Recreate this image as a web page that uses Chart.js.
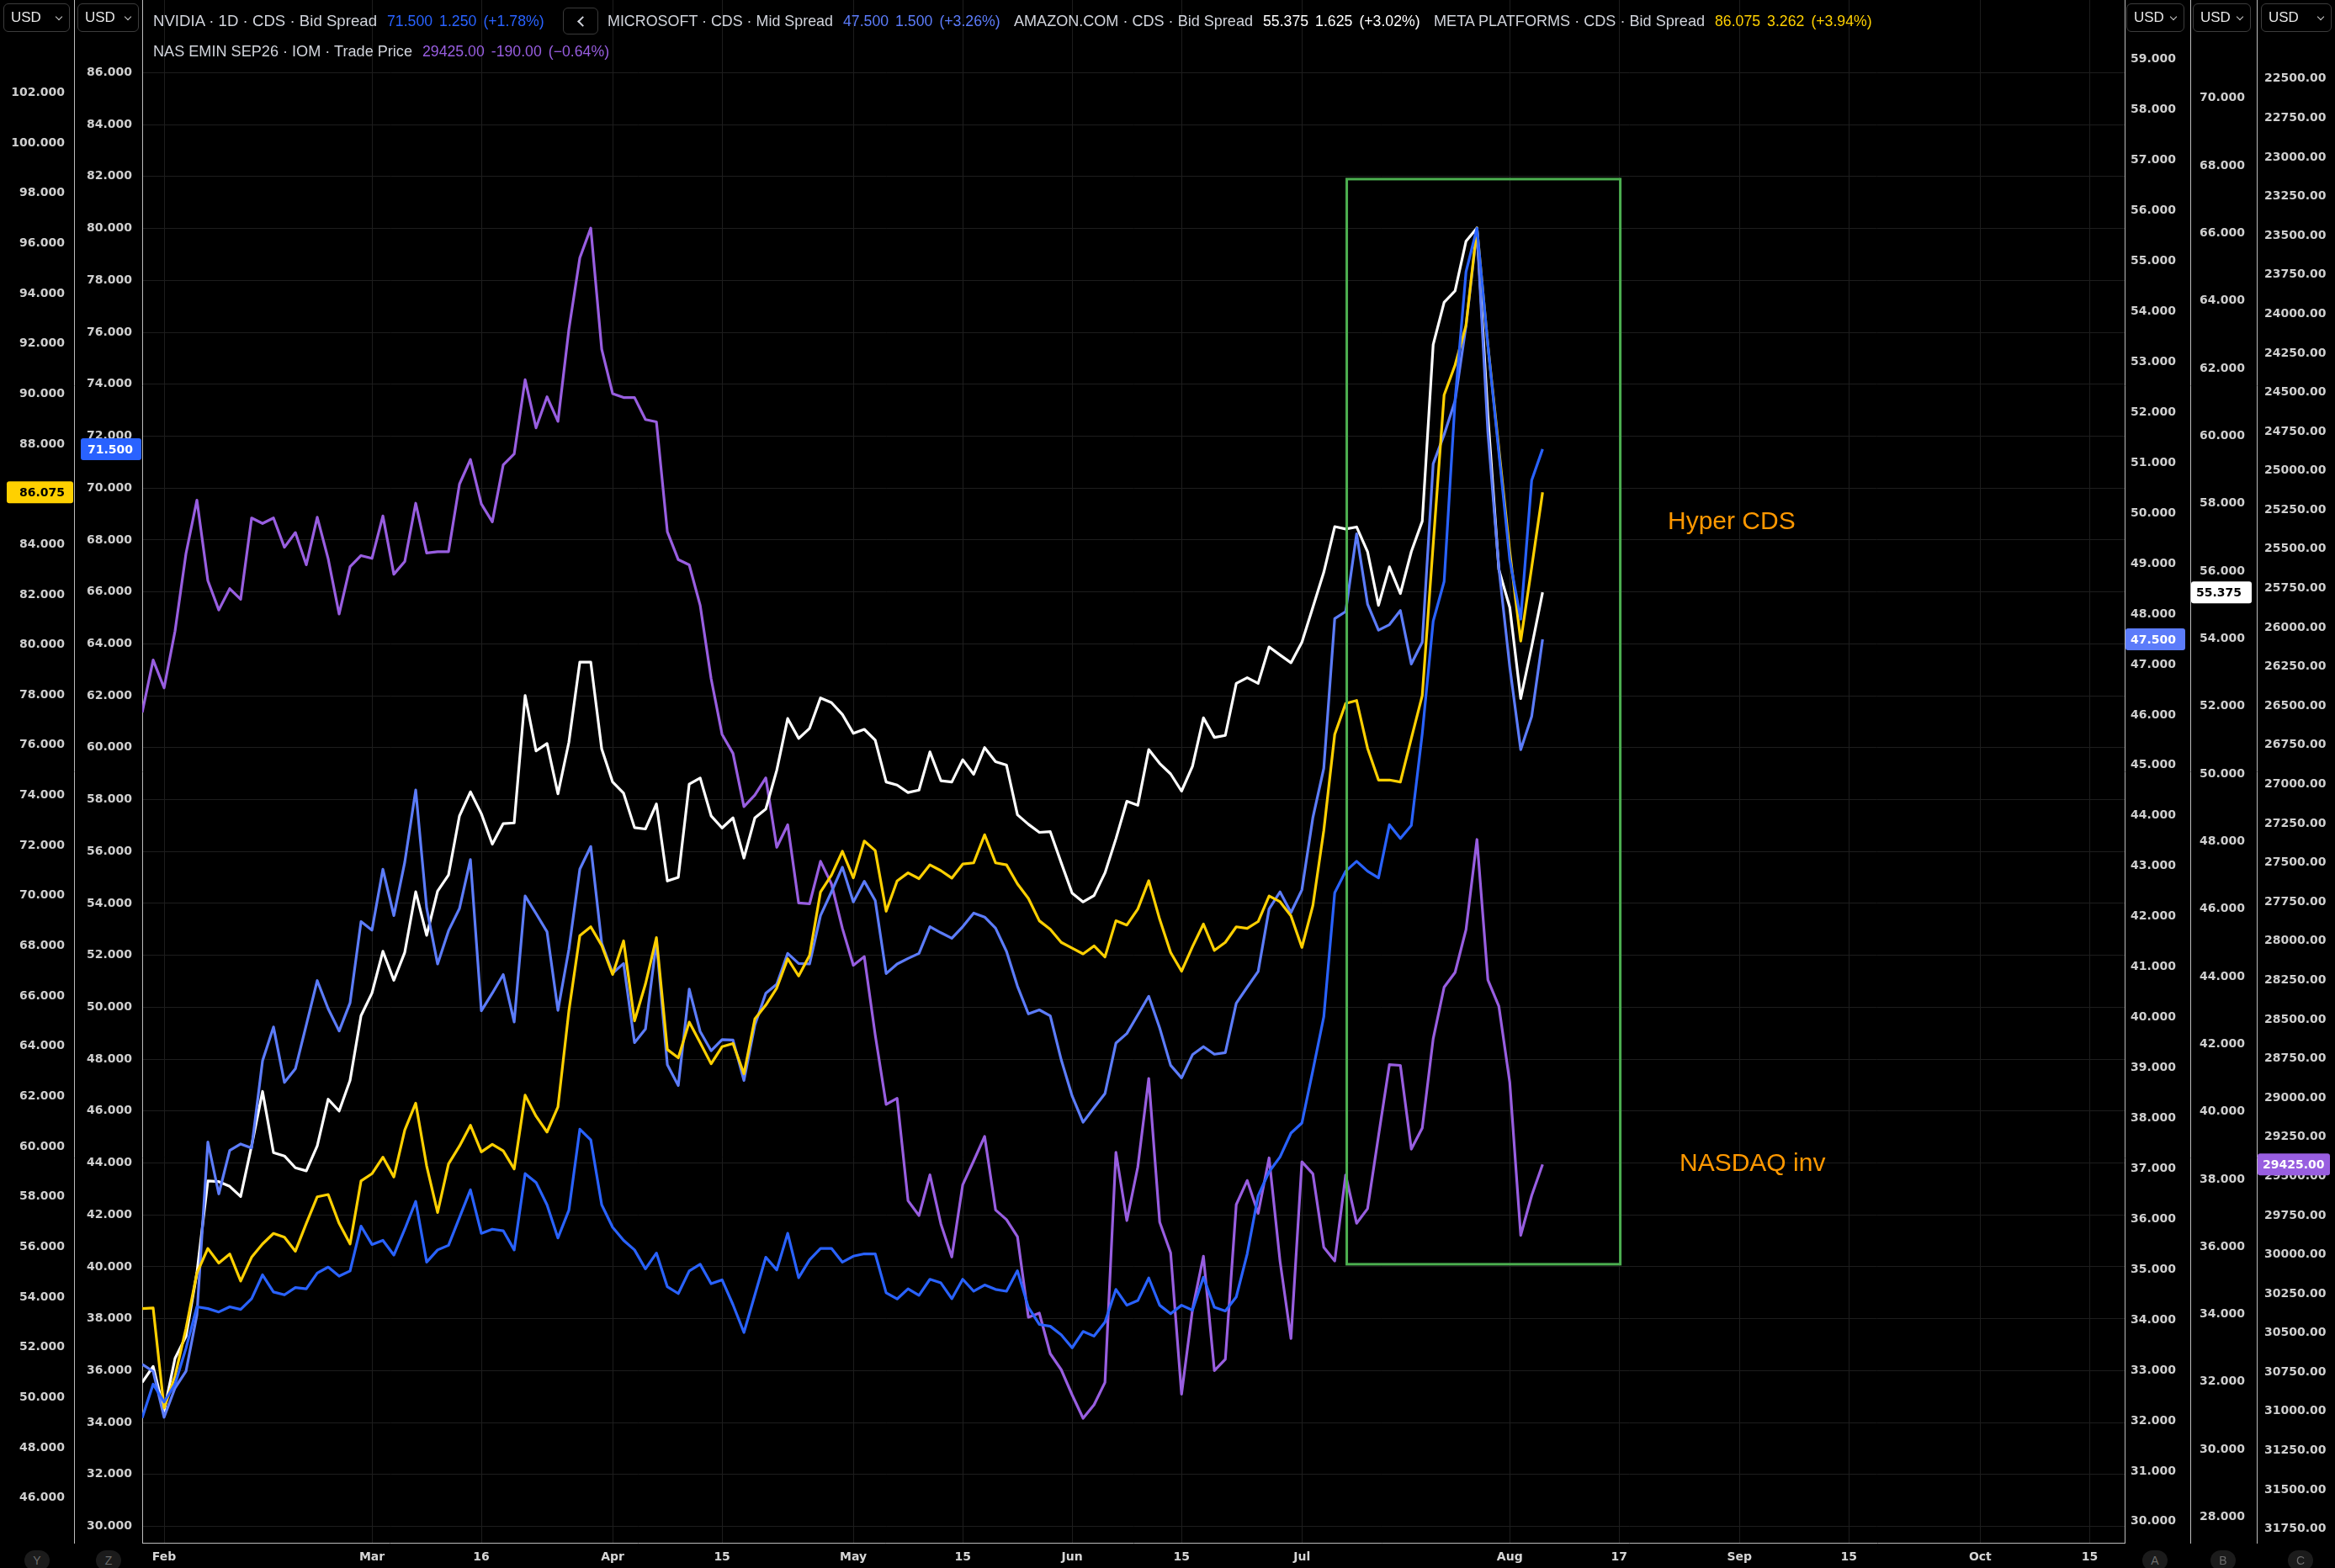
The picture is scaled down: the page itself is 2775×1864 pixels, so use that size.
<!DOCTYPE html>
<html>
<head>
<meta charset="utf-8">
<script src="https://cdn.jsdelivr.net/npm/chart.js@4.4.1/dist/chart.umd.min.js"></script>
<style>
  html, body { margin: 0; padding: 0; background: #000; }
  body { width: 2775px; height: 1864px; position: relative; overflow: hidden; font-family: "Liberation Sans", Arial, sans-serif; }
  #box { position: absolute; left: 0; top: 0; width: 2775px; height: 1864px; }
  .hdr { position: absolute; white-space: nowrap; font-size: 17.7px; line-height: 20px; color: #d1d4dc; }
  .nm { transform-origin: 0 50%; }
  .val span { margin-right: 8px; }
  .usd { position: absolute; top: 4px; height: 34px; border: 1px solid #3d3d3d; border-radius: 6px; box-sizing: border-box;
         color: #e6e6e6; font-size: 17px; line-height: 32px; padding-left: 8px; }
  .chev { position: absolute; width: 5px; height: 5px; border-right: 1.5px solid #cfcfcf; border-bottom: 1.5px solid #cfcfcf;
          transform: rotate(45deg); top: 12px; right: 9px; }
  .back { position: absolute; left: 669px; top: 9px; width: 42px; height: 32px; border: 1px solid #3a3a3a; border-radius: 6px; box-sizing: border-box; }
  .back i { position: absolute; left: 18px; top: 11px; width: 7px; height: 7px; border-left: 2px solid #d1d4dc; border-bottom: 2px solid #d1d4dc; transform: rotate(45deg); }
  .axl { position: absolute; top: 1843px; width: 30px; height: 24px; border-radius: 14px; background: #1b1b1b; color: #6c6c6c;
         font-size: 14px; line-height: 24px; text-align: center; }
  .note { position: absolute; color: #ff9800; font-size: 30px; line-height: 34px; white-space: nowrap; }
</style>
</head>
<body>
<div id="box"><canvas id="c"></canvas></div>

<div class="hdr nm" data-w="266" style="left:182px;top:15px">NVIDIA · 1D · CDS · Bid Spread</div>
<div class="hdr val" style="left:460px;top:15px;color:#2962ff"><span>71.500</span><span>1.250</span><span>(+1.78%)</span></div>
<div class="back"><i></i></div>
<div class="hdr nm" data-w="268" style="left:722px;top:15px">MICROSOFT · CDS · Mid Spread</div>
<div class="hdr val" style="left:1002px;top:15px;color:#5c7cfa"><span>47.500</span><span>1.500</span><span>(+3.26%)</span></div>
<div class="hdr nm" data-w="284" style="left:1205px;top:15px">AMAZON.COM · CDS · Bid Spread</div>
<div class="hdr val" style="left:1501px;top:15px;color:#ffffff"><span>55.375</span><span>1.625</span><span>(+3.02%)</span></div>
<div class="hdr nm" data-w="322" style="left:1704px;top:15px">META PLATFORMS · CDS · Bid Spread</div>
<div class="hdr val" style="left:2038px;top:15px;color:#ffd000"><span>86.075</span><span>3.262</span><span>(+3.94%)</span></div>
<div class="hdr nm" data-w="308" style="left:182px;top:51px">NAS EMIN SEP26 · IOM · Trade Price</div>
<div class="hdr val" style="left:502px;top:51px;color:#985ee0"><span>29425.00</span><span>-190.00</span><span>(−0.64%)</span></div>

<div class="usd" style="left:4px;width:79px">USD<i class="chev"></i></div>
<div class="usd" style="left:92px;width:73px">USD<i class="chev"></i></div>
<div class="usd" style="left:2527px;width:69px">USD<i class="chev"></i></div>
<div class="usd" style="left:2606px;width:69px">USD<i class="chev"></i></div>
<div class="usd" style="left:2687px;width:84px">USD<i class="chev"></i></div>

<div class="axl" style="left:29px">Y</div>
<div class="axl" style="left:114px">Z</div>
<div class="axl" style="left:2546px">A</div>
<div class="axl" style="left:2627px">B</div>
<div class="axl" style="left:2719px">C</div>

<div class="note" style="left:1982px;top:602px">Hyper CDS</div>
<div class="note" style="left:1996px;top:1365px">NASDAQ inv</div>

<script>
// daily closes, one value per trading day (index 0 = late Jan)
const nvdaCds = [34.18,35.48,34.79,35.48,36.86,38.46,38.39,38.26,38.46,38.36,38.77,39.69,39.03,38.92,39.2,39.15,39.76,39.99,39.64,39.84,
  41.57,40.86,41.02,40.45,41.45,42.52,40.18,40.65,40.83,41.9,42.97,41.29,41.45,41.39,40.65,43.59,43.25,42.39,41.11,42.18,
  45.3,44.89,42.39,41.52,41.02,40.65,39.92,40.53,39.23,38.97,39.84,40.1,39.35,39.5,38.54,37.47,38.92,40.37,39.88,41.29,
  39.58,40.27,40.71,40.71,40.18,40.41,40.5,40.5,39.0,38.76,39.15,38.9,39.52,39.38,38.77,39.52,39.06,39.3,39.13,39.06,
  39.85,38.44,37.78,37.71,37.38,36.88,37.51,37.33,37.87,39.13,38.52,38.7,39.57,38.52,38.19,38.52,38.33,39.6,38.44,38.3,
  38.84,40.5,42.74,43.66,44.23,45.15,45.54,47.56,49.63,54.41,55.24,55.62,55.24,54.98,57.03,56.5,57.0,60.54,64.87,66.4,
  73.36,78.33,80.01,75.5,71.37,67.24,64.95,70.3,71.5];
const metaCds = [53.54,53.57,49.58,50.85,52.75,54.96,55.94,55.36,55.72,54.64,55.59,56.12,56.54,56.39,55.83,56.94,58.0,58.09,56.94,56.12,
  58.63,58.92,59.58,58.79,60.66,61.73,59.23,57.37,59.31,60.02,60.85,59.79,60.09,59.83,59.11,62.05,61.21,60.58,61.58,65.41,
  68.41,68.76,68.02,66.86,68.2,65.01,66.48,68.33,63.87,63.54,64.96,64.14,63.3,63.98,64.11,62.9,65.09,65.64,66.32,67.49,
  66.8,67.62,70.15,70.82,71.77,70.71,72.18,71.8,69.38,70.59,70.91,70.68,71.23,71.0,70.7,71.26,71.31,72.43,71.31,71.23,
  70.47,69.89,69.0,68.66,68.14,67.91,67.68,68.0,67.56,69.0,68.83,69.47,70.6,69.06,67.74,66.99,67.97,68.87,67.82,68.14,
  68.76,68.7,68.97,69.99,69.76,69.2,67.94,69.6,72.6,76.43,77.66,77.78,75.88,74.61,74.61,74.53,76.27,77.98,84.0,89.96,
  91.15,92.73,96.61,91.94,87.82,83.71,80.15,83.08,86.075];
const msftCds = [33.12,32.98,32.07,32.65,32.98,34.1,37.53,36.5,37.36,37.49,37.41,39.14,39.81,38.71,38.98,39.85,40.73,40.17,39.73,40.29,
  41.9,41.73,42.94,42.02,43.08,44.51,42.17,41.06,41.72,42.16,43.13,40.13,40.48,40.85,39.91,42.41,42.06,41.7,40.14,41.35,
  42.94,43.39,41.47,40.88,41.07,39.5,39.77,41.5,39.06,38.65,40.56,39.72,39.34,39.56,39.55,38.75,39.85,40.48,40.66,41.27,
  41.07,41.06,42.02,42.49,42.98,42.29,42.7,42.32,40.87,41.06,41.17,41.27,41.8,41.68,41.57,41.8,42.07,41.99,41.77,41.31,
  40.62,40.07,40.15,40.03,39.16,38.44,37.92,38.21,38.49,39.49,39.68,40.05,40.42,39.79,39.05,38.8,39.26,39.42,39.27,39.3,
  40.28,40.6,40.91,42.15,42.49,42.08,42.53,43.96,44.94,47.91,48.05,49.59,48.2,47.68,47.79,48.07,47.01,47.44,50.98,51.56,
  52.23,53.72,55.61,51.6,48.92,46.95,45.31,45.97,47.5];
const amznCds = [31.99,32.46,31.14,32.7,33.35,35.23,37.95,37.93,37.79,37.49,38.99,40.6,38.79,38.69,38.34,38.25,38.99,40.37,40.02,40.93,
  42.84,43.51,44.75,43.89,44.72,46.51,45.22,46.53,47.01,48.76,49.47,48.82,47.92,48.53,48.55,52.32,50.68,50.9,49.41,50.94,
  53.31,53.31,50.74,49.76,49.43,48.41,48.37,49.11,46.83,46.94,49.7,49.88,48.76,48.4,48.7,47.51,48.7,48.96,50.11,51.64,
  51.05,51.35,52.25,52.11,51.76,51.2,51.32,51.0,49.76,49.67,49.45,49.52,50.65,49.8,49.76,50.42,49.99,50.78,50.36,50.26,
  48.79,48.51,48.27,48.29,47.37,46.47,46.21,46.4,47.07,48.08,49.19,49.07,50.72,50.31,50.0,49.49,50.23,51.66,51.08,51.14,
  52.68,52.85,52.68,53.76,53.52,53.29,53.9,54.93,55.97,57.32,57.25,57.31,56.58,54.99,56.13,55.34,56.58,57.48,62.71,63.96,
  64.3,65.77,66.16,60.6,56.05,54.93,52.23,53.76,55.375];
const nasEmin = [26542,26207,26385,26023,25529,25187,25701,25888,25752,25820,25301,25336,25301,25488,25394,25600,25296,25562,25914,25612,
  25541,25559,25288,25660,25579,25207,25524,25516,25516,25085,24928,25212,25326,24962,24893,24419,24726,24528,24685,24098,
  23642,23452,24224,24508,24533,24533,24673,24688,25389,25567,25600,25858,26326,26681,26803,27142,27068,26959,27402,27258,
  27757,27762,27491,27635,27919,28154,28099,28599,29042,29003,29656,29751,29491,29804,30015,29554,29402,29246,29715,29777,
  29885,30400,30373,30632,30734,30895,31044,30958,30815,29348,29783,29441,28876,29792,29988,30890,30350,30010,30740,30668,
  29681,29527,29737,29383,30041,30535,29408,29484,29953,30041,29492,29800,29707,29243,28788,28793,29327,29193,28623,28294,
  28200,27927,27352,28248,28415,28902,29877,29623,29425];

// time axis: bar index of each date label
const xTickPos = [2, 21, 31, 43, 53, 65, 75, 85, 95, 106, 125, 135, 146, 156, 168, 178];
const xTickText = ['Feb', 'Mar', '16', 'Apr', '15', 'May', '15', 'Jun', '15', 'Jul', 'Aug', '17', 'Sep', '15', 'Oct', '15'];
const xRange = [0, 181.2];

// price scales: visible range, and tick [first, last, step]
const metaRange = [44.21, 105.70], metaTicks = [46, 102, 2];
const nvdaRange = [29.37, 88.80], nvdaTicks = [30, 86, 2];
const msftRange = [29.58, 60.18], msftTicks = [30, 59, 1];
const amznRange = [27.24, 72.91], amznTicks = [28, 70, 2];
const nasRange = [21997, 31838], nasTicks = [22500, 31750, 250];

// highlighted window (bar index, NVIDIA scale)
const boxBars = [110.1, 135.1];
const boxNvda = [81.9, 40.1];

const bars = nvdaCds.map((_, i) => i);

// squeeze/stretch legend names to the width they take in the original
document.querySelectorAll('.nm').forEach(el => {
  const w = el.getBoundingClientRect().width;
  el.style.transform = 'scaleX(' + (+el.dataset.w / w) + ')';
});

function tickList(r) {
  const out = [];
  for (let v = r[0]; v <= r[1] + 1e-9; v += r[2]) out.push(+v.toFixed(4));
  return out;
}

const tickFont = { family: 'DejaVu Sans', size: 14, weight: 'bold' };

function priceAxis(pos, width, range, ticks, dec, opts = {}) {
  const list = tickList(ticks);
  return {
    type: 'linear',
    position: pos,
    min: range[0],
    max: range[1],
    reverse: !!opts.reverse,
    grid: { display: !!opts.grid, color: '#1d1d1d', drawTicks: false },
    border: { display: true, color: '#bdbdbd', width: 1 },
    ticks: {
      padding: opts.pad, color: '#cfcfcf', font: tickFont, autoSkip: false,
      callback: v => Number(v).toFixed(dec)
    },
    afterBuildTicks: axis => { axis.ticks = list.map(v => ({ value: v })); },
    afterFit: axis => {
      axis.width = width;
      axis.paddingTop = 0;
      axis.paddingBottom = 0;
    }
  };
}

const tags = {
  yMeta: { bg: '#ffd000', fg: '#000000', dec: 3 },
  yNvda: { bg: '#2962ff', fg: '#ffffff', dec: 3 },
  yMsft: { bg: '#5c7cfa', fg: '#ffffff', dec: 3 },
  yAmzn: { bg: '#ffffff', fg: '#000000', dec: 3 },
  yNas: { bg: '#985ee0', fg: '#ffffff', dec: 2 }
};

const lastValueTags = {
  id: 'lastValueTags',
  afterDraw(chart) {
    const ctx = chart.ctx;
    ctx.save();
    ctx.font = 'bold 14px "DejaVu Sans"';
    ctx.textBaseline = 'middle';
    chart.data.datasets.forEach(ds => {
      const sc = chart.scales[ds.yAxisID];
      const t = tags[ds.yAxisID];
      const v = ds.data[ds.data.length - 1];
      const y = sc.getPixelForValue(v);
      const left = sc.position === 'left';
      const x0 = left ? sc.left + 8 : sc.left + 1;
      const x1 = left ? sc.right - 1 : sc.right - 6;
      ctx.fillStyle = t.bg;
      ctx.beginPath();
      ctx.roundRect(x0, y - 13, x1 - x0, 26, 3);
      ctx.fill();
      ctx.fillStyle = t.fg;
      if (left) {
        ctx.textAlign = 'right';
        ctx.fillText(v.toFixed(t.dec), sc.right - 11, y + 1);
      } else {
        ctx.textAlign = 'left';
        ctx.fillText(v.toFixed(t.dec), sc.left + 7, y + 1);
      }
    });
    ctx.restore();
  }
};

const windowBox = {
  id: 'windowBox',
  afterDatasetsDraw(chart) {
    const x = chart.scales.x, y = chart.scales.yNvda;
    const ctx = chart.ctx;
    const l = x.getPixelForValue(boxBars[0]), r = x.getPixelForValue(boxBars[1]);
    const t = y.getPixelForValue(boxNvda[0]), b = y.getPixelForValue(boxNvda[1]);
    ctx.save();
    ctx.strokeStyle = '#4caf50';
    ctx.lineWidth = 3;
    ctx.strokeRect(l, t, r - l, b - t);
    ctx.restore();
  }
};

function line(label, data, color, axis) {
  return {
    label, data, yAxisID: axis,
    borderColor: color, backgroundColor: color,
    borderWidth: 3.2, pointRadius: 0, tension: 0,
    borderJoinStyle: 'round', fill: false
  };
}

new Chart(document.getElementById('c'), {
  type: 'line',
  data: {
    labels: bars,
    datasets: [
      line('NVIDIA · CDS · Bid Spread', nvdaCds, '#2962ff', 'yNvda'),
      line('META PLATFORMS · CDS · Bid Spread', metaCds, '#ffd000', 'yMeta'),
      line('MICROSOFT · CDS · Mid Spread', msftCds, '#5c7cfa', 'yMsft'),
      line('AMAZON.COM · CDS · Bid Spread', amznCds, '#ffffff', 'yAmzn'),
      line('NAS EMIN SEP26 · IOM · Trade Price', nasEmin, '#985ee0', 'yNas')
    ]
  },
  options: {
    responsive: true,
    maintainAspectRatio: false,
    animation: false,
    events: [],
    layout: { padding: 0, autoPadding: false },
    plugins: { legend: { display: false }, tooltip: { enabled: false } },
    scales: {
      x: {
        type: 'linear',
        min: xRange[0],
        max: xRange[1],
        grid: { color: '#1d1d1d', drawTicks: false },
        border: { display: true, color: '#bdbdbd', width: 1 },
        ticks: {
          padding: 9, color: '#d6d6d6', autoSkip: false, maxRotation: 0,
          font: { family: 'DejaVu Sans', size: 14, weight: 'bold' },
          callback: v => xTickText[xTickPos.indexOf(v)]
        },
        afterBuildTicks: axis => { axis.ticks = xTickPos.map(v => ({ value: v })); },
        afterFit: axis => {
          axis.height = 30;
          axis.paddingLeft = 0;
          axis.paddingRight = 0;
        }
      },
      yNvda: priceAxis('left', 81, nvdaRange, nvdaTicks, 3, { grid: true, pad: 12 }),
      yMeta: priceAxis('left', 88, metaRange, metaTicks, 3, { pad: 11 }),
      yMsft: priceAxis('right', 78, msftRange, msftTicks, 3, { pad: 7 }),
      yAmzn: priceAxis('right', 79, amznRange, amznTicks, 3, { pad: 11 }),
      yNas: priceAxis('right', 93, nasRange, nasTicks, 2, { pad: 9, reverse: true })
    }
  },
  plugins: [windowBox, lastValueTags]
});
</script>
</body>
</html>
